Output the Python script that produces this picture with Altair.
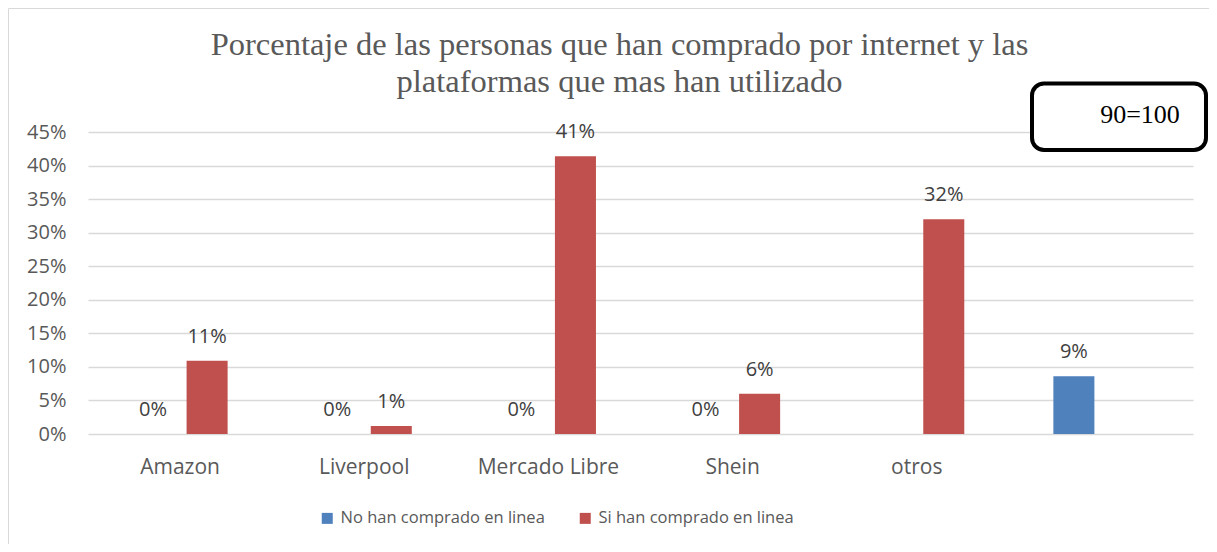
import altair as alt
import pandas as pd

categories = ["Amazon", "Liverpool", "Mercado Libre", "Shein", "otros", " "]
series = ["No han comprado en linea", "Si han comprado en linea"]
no_compra = [0.0, 0.0, 0.0, 0.0, None, 0.086]
si_compra = [0.109, 0.012, 0.414, 0.06, 0.32, None]
colors = ["#4F81BD", "#C0504D"]
y_ticks = [0, 0.05, 0.10, 0.15, 0.20, 0.25, 0.30, 0.35, 0.40, 0.45]
title_lines = ["Porcentaje de las personas que han comprado por internet y las",
               "plataformas que mas han utilizado"]
note_text = ["90=100"]

rows = []
for s, vals in zip(series, [no_compra, si_compra]):
    for c, v in zip(categories, vals):
        if v is not None:
            rows.append({"cat": c, "serie": s, "val": v})
df = pd.DataFrame(rows)

W, H = 1105, 302
FONT = "Open Sans"

x_axis = alt.Axis(title=None, labelAngle=0, ticks=False, tickSize=0, domain=False,
                  labelPadding=22, labelFontSize=21, labelFont=FONT,
                  labelColor="#595959", grid=False)
y_axis = alt.Axis(title=None, format=".0%", values=y_ticks, domain=False, ticks=False,
                  tickSize=0, labelPadding=22, labelFontSize=20, labelFont=FONT,
                  labelColor="#595959", gridColor="#D9D9D9", gridWidth=1.3,
                  labelOverlap=False)
x_scale = alt.Scale(domain=categories, paddingInner=0, paddingOuter=0)
xo_scale = alt.Scale(domain=series, paddingInner=0.241, paddingOuter=0.824)
y_scale = alt.Scale(domain=[0, 0.45], nice=False)

bars = alt.Chart(df).mark_bar().encode(
    x=alt.X("cat:N", sort=categories, scale=x_scale, axis=x_axis),
    xOffset=alt.XOffset("serie:N", scale=xo_scale),
    y=alt.Y("val:Q", scale=y_scale, axis=y_axis),
    color=alt.Color("serie:N", scale=alt.Scale(domain=series, range=colors),
                    legend=alt.Legend(title=None, orient="none", legendX=231, legendY=378,
                                      direction="horizontal", symbolType="square",
                                      symbolSize=121, symbolStrokeWidth=0,
                                      labelFontSize=16.5, labelFont=FONT, labelColor="#595959",
                                      labelLimit=400, columnPadding=32, labelOffset=5,
                                      padding=0)),
)

labels = alt.Chart(df).mark_text(dy=-24, fontSize=20, font=FONT, color="#404040",
                                 baseline="middle").encode(
    x=alt.X("cat:N", sort=categories, scale=x_scale, axis=x_axis),
    xOffset=alt.XOffset("serie:N", scale=xo_scale),
    y=alt.Y("val:Q", scale=y_scale, axis=y_axis),
    text=alt.Text("val:Q", format=".0%"),
)

border = alt.Chart(pd.DataFrame({"k": [0]})).mark_rect(
    fillOpacity=0, stroke="#D9D9D9", strokeWidth=1
).encode(x=alt.value(-79.5), x2=alt.value(1300), y=alt.value(-123.5), y2=alt.value(600))

box = alt.Chart(pd.DataFrame({"k": [0]})).mark_rect(
    fill="white", stroke="black", strokeWidth=4, cornerRadius=12
).encode(x=alt.value(944), x2=alt.value(1118), y=alt.value(-48.5), y2=alt.value(18))

note = alt.Chart(pd.DataFrame({"t": note_text})).mark_text(
    font="Liberation Serif", fontSize=26, color="black", align="center", baseline="alphabetic"
).encode(x=alt.value(1052), y=alt.value(-9), text="t:N")

chart = alt.layer(border, bars, labels, box, note).properties(
    width=W, height=H,
    padding={"left": 80, "top": 124, "right": 16, "bottom": 110},
    autosize="none",
    title=alt.TitleParams(text=title_lines, font="Liberation Serif", fontSize=32.5,
                          fontWeight="normal", color="#595959", anchor="middle",
                          lineHeight=37, offset=-90, dx=-21),
).configure(background="white").configure_view(stroke=None)

chart.save("out.html", embed_options={"renderer": "svg", "actions": False})
